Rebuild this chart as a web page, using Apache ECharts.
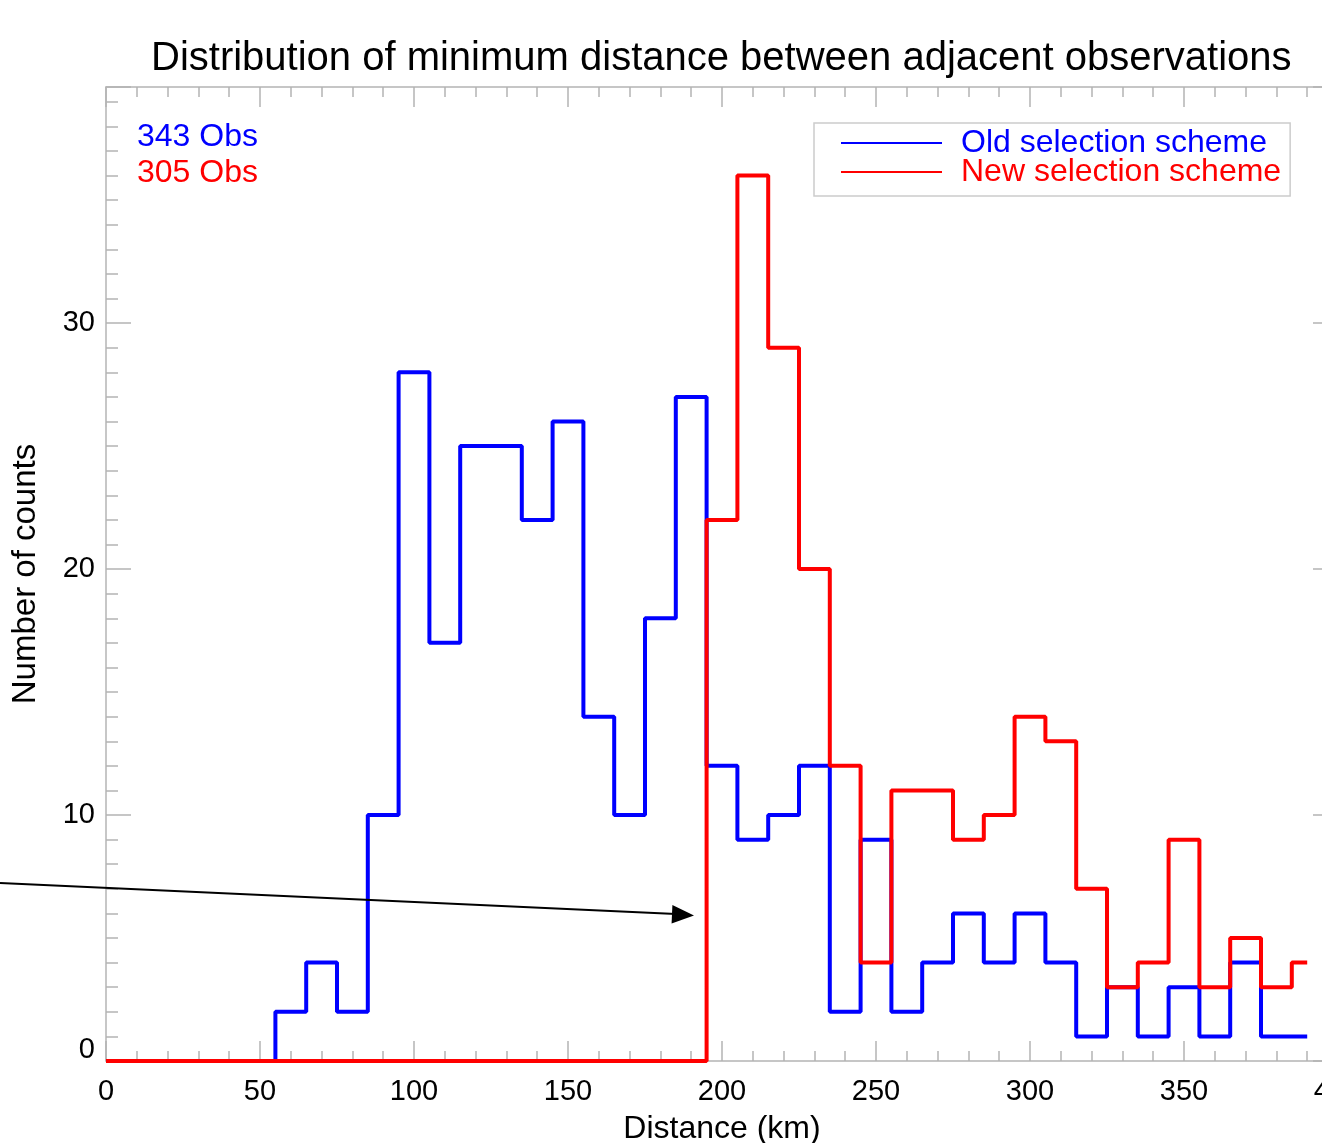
<!DOCTYPE html>
<html>
<head>
<meta charset="utf-8">
<title>Distribution of minimum distance</title>
<script src="https://cdn.jsdelivr.net/npm/echarts@6/dist/echarts.min.js"></script>
<style>
    html, body { margin: 0; padding: 0; background: #fff; }
    #histChart { width: 1322px; height: 1143px; }
</style>
</head>
<body>
<div id="histChart"></div>
<script>
// bin locations (km), IDL psym=10 style: steps sit halfway between them
var distances = [0, 10, 20, 30, 40, 50, 60, 70, 80, 90, 100, 110, 120, 130, 140, 150, 160, 170, 180, 190,
                 200, 210, 220, 230, 240, 250, 260, 270, 280, 290, 300, 310, 320, 330, 340, 350, 360, 370, 380, 390];
var oldCounts = [0, 0, 0, 0, 0, 0, 2, 4, 2, 10, 28, 17, 25, 25, 22, 26, 14, 10, 18, 27,
                 12, 9, 10, 12, 2, 9, 2, 4, 6, 4, 6, 4, 1, 3, 1, 3, 1, 4, 1, 1];
var newCounts = [0, 0, 0, 0, 0, 0, 0, 0, 0, 0, 0, 0, 0, 0, 0, 0, 0, 0, 0, 0,
                 22, 36, 29, 20, 12, 4, 11, 11, 9, 10, 14, 13, 7, 3, 4, 9, 3, 5, 3, 4];
var seriesNames = ['Old selection scheme', 'New selection scheme'];
var obsLabels = ['343 Obs', '305 Obs'];

var colors = ['#0000ff', '#ff0000'];
var axisGray = '#b4b4b4';
var font = '"Liberation Sans", Arial, sans-serif';

function pairs(xs, ys) {
    var out = [];
    for (var i = 0; i < xs.length; i++) out.push([xs[i], ys[i]]);
    return out;
}

var chartDom = document.getElementById('histChart');
var myChart = echarts.init(chartDom);

var frameX = {
    min: 0, max: 400, interval: 50,
    axisLine: { show: true, onZero: false, lineStyle: { color: axisGray, width: 1.5 } },
    axisTick: { show: true, inside: true, length: 20, lineStyle: { color: axisGray, width: 1.5 } },
    minorTick: { show: true, splitNumber: 5, length: 10, lineStyle: { color: axisGray, width: 1.5 } },
    splitLine: { show: false }
};
var frameY = {
    min: 0, max: 39.6, interval: 10,
    axisLine: { show: true, onZero: false, lineStyle: { color: axisGray, width: 1.5 } },
    axisTick: { show: true, inside: true, length: 25, lineStyle: { color: axisGray, width: 1.5 } },
    minorTick: { show: true, splitNumber: 10, length: 12, lineStyle: { color: axisGray, width: 1.5 } },
    splitLine: { show: false }
};

var option = {
    animation: false,
    color: colors,
    title: {
        text: 'Distribution of minimum distance between adjacent observations',
        left: 146,
        top: 34,
        textStyle: { color: '#000', fontFamily: font, fontWeight: 'normal', fontSize: 40 }
    },
    legend: {
        orient: 'vertical',
        left: 814,
        top: 123,
        padding: [4, 9, 8, 26],
        borderColor: '#cccccc',
        borderWidth: 1.5,
        itemWidth: 101,
        itemHeight: 26,
        itemGap: -3,
        itemStyle: { opacity: 0 },
        lineStyle: { width: 2 },
        textStyle: { fontFamily: font, fontSize: 32, lineHeight: 26, padding: [0, 0, 0, 14] },
        data: [
            { name: seriesNames[0], textStyle: { color: colors[0] } },
            { name: seriesNames[1], textStyle: { color: colors[1] } }
        ]
    },
    grid: {
        left: 106, right: -16, top: 87, bottom: 82,
        containLabel: false,
        outerBoundsMode: 'none'
    },
    xAxis: [
        Object.assign({}, frameX, {
            type: 'value',
            position: 'bottom',
            name: 'Distance (km)',
            nameLocation: 'middle',
            nameGap: 52,
            nameTextStyle: { color: '#000', fontFamily: font, fontSize: 32 },
            axisLabel: { color: '#000', fontFamily: font, fontSize: 29, margin: 16 }
        }),
        Object.assign({}, frameX, {
            type: 'value',
            position: 'top',
            axisLabel: { show: false }
        })
    ],
    yAxis: [
        Object.assign({}, frameY, {
            type: 'value',
            position: 'left',
            name: 'Number of counts',
            nameLocation: 'middle',
            nameGap: 64,
            nameTextStyle: { color: '#000', fontFamily: font, fontSize: 33 },
            axisLabel: {
                color: '#000', fontFamily: font, fontSize: 29, margin: 11,
                formatter: function (value) {
                    if (value === 0) return '{z|0}';
                    if (value % 10 !== 0) return '';
                    return String(value);
                },
                rich: {
                    z: { color: '#000', fontFamily: font, fontSize: 29, padding: [0, 0, 22, 0] }
                }
            }
        }),
        Object.assign({}, frameY, {
            type: 'value',
            position: 'right',
            axisLabel: { show: false }
        })
    ],
    series: [
        {
            name: seriesNames[0],
            type: 'line',
            step: 'middle',
            symbol: 'none',
            xAxisIndex: 0,
            yAxisIndex: 0,
            lineStyle: { color: colors[0], width: 4 },
            data: pairs(distances, oldCounts),
            z: 2
        },
        {
            name: seriesNames[1],
            type: 'line',
            step: 'middle',
            symbol: 'none',
            xAxisIndex: 0,
            yAxisIndex: 0,
            lineStyle: { color: colors[1], width: 4 },
            data: pairs(distances, newCounts),
            z: 3
        }
    ],
    graphic: [
        // observation counts, top left corner of the plot
        {
            type: 'text', x: 137, y: 137,
            style: { text: obsLabels[0], fill: colors[0], font: '32px ' + font, textVerticalAlign: 'middle' }
        },
        {
            type: 'text', x: 137, y: 173,
            style: { text: obsLabels[1], fill: colors[1], font: '32px ' + font, textVerticalAlign: 'middle' }
        },
        // the arrow pointing at the start of the new scheme
        {
            type: 'line',
            shape: { x1: 0, y1: 883, x2: 676, y2: 914 },
            style: { stroke: '#000', lineWidth: 2 },
            z: 10
        },
        {
            type: 'polygon',
            shape: { points: [[694, 915.5], [672.4, 905], [671.6, 923.5]] },
            style: { fill: '#000' },
            z: 10
        }
    ]
};

myChart.setOption(option);
</script>
</body>
</html>
